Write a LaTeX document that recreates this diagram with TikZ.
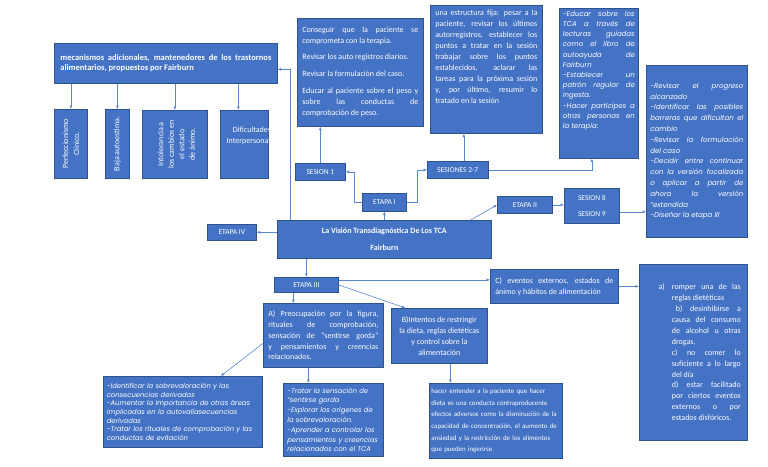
\documentclass[tikz,border=0pt]{standalone}
\usepackage{fontspec}
\setmainfont{Carlito}
\newfontfamily\gothic{Poppins}
\usepackage{xcolor}
\usetikzlibrary{arrows.meta, positioning}
\definecolor{boxblue}{HTML}{4472C4}
\definecolor{boxedge}{HTML}{2F528F}
\definecolor{linkblue}{HTML}{5B87D0}

\begin{document}
\begin{tikzpicture}[x=1pt, y=-1pt]
  \tikzset{
    box/.style={rectangle, draw=boxedge, fill=boxblue, line width=0.7pt, anchor=north west, inner sep=0pt},
    txt/.style={text=white, inner sep=0pt, font=\fontsize{8}{11}\selectfont},
    tag/.style={box, txt, font=\fontsize{7.5}{9}\selectfont},
    slant/.style={txt, font=\gothic\itshape\fontsize{7}{10.2}\selectfont},
    link/.style={draw=linkblue, line width=0.6pt, -{Latex[length=3.5pt, width=3pt]}}
  }
  \useasboundingbox (0,0) rectangle (768,466);
  \fill[white] (0,0) rectangle (768,466);

  % Mecanismos adicionales
  \node[box, txt, minimum width=223, minimum height=40, text width=211, align=justify, font=\bfseries\fontsize{8.5}{10}\selectfont] (mec) at (54,43)
    {mecanismos adicionales, mantenedores de los trastornos\linebreak alimentarios, propuestos por Fairburn};
  \node[box, minimum width=33, minimum height=69] (perf) at (54,109) {};
  \node[box, minimum width=24, minimum height=69] (baja) at (105,109) {};
  \node[box, minimum width=65, minimum height=68] (intol) at (142,110) {};
  \node[box, minimum width=48, minimum height=68] (dific) at (220,110) {};
  \node[txt, rotate=90, align=center] (perftxt) at (perf.center) {Perfeccionismo\\Clínico.};
  \node[txt, rotate=90] (bajatxt) at (baja.center) {Baja autoestima.};
  \node[txt, rotate=90, align=center, font=\fontsize{8}{10.5}\selectfont] (intoltxt) at ([xshift=1.5pt]intol.center) {Intolerancia a\\los cambios en\\el estado\\de ánimo.};
  \begin{scope}
    \clip (dific.north west) rectangle (dific.south east);
    \node[txt, align=center] (dificTxt) at (252,135.5) {Dificultades\\Interpersonales};
  \end{scope}
  \draw[link] (mec.south -| perf.north) -- (perf.north);
  \draw[link] (mec.south -| baja.north) -- (baja.north);
  \draw[link] (mec.south -| intol.north) -- (intol.north);
  \draw[link] ([xshift=-6pt]mec.south -| dific.north) -- ([xshift=-6pt]dific.north);

  % Etapa I y sesiones
  \node[box, txt, minimum width=126, minimum height=108, text width=116, align=justify] (tarea1) at (297,18)
    {Conseguir que la paciente se\linebreak comprometa con la terapia.\\[5pt]
     Revisar los auto registros diarios.\\[6pt]
     Revisar la formulación del caso.\\[6pt]
     Educar al paciente sobre el peso y\linebreak sobre las conductas de\linebreak comprobación de peso.};
  \node[box, minimum width=112, minimum height=128] (tarea27) at (430,5) {};
  \node[txt, text width=102, align=justify, below=5pt of tarea27.north] (tarea27txt)
    {una estructura fija: pesar a la\linebreak paciente, revisar los últimos\linebreak autorregistros, establecer los\linebreak
     puntos a tratar en la sesión\linebreak trabajar sobre los puntos\linebreak establecidos, aclarar las\linebreak
     tareas para la próxima sesión\linebreak y, por último, resumir lo\linebreak tratado en la sesión};
  \node[box, minimum width=79, minimum height=150] (tareaedu) at (559,8) {};
  \node[slant, text width=72, align=justify, below=3pt of tareaedu.north] (tareaedutxt)
    {-Educar sobre los\linebreak TCA a través de\linebreak lecturas guiadas\linebreak como el libro de\linebreak autoayuda de\linebreak Fairburn\\
     -Establecer un\linebreak patrón regular de\linebreak ingesta.\\
     -Hacer partícipes a\linebreak otras personas en\linebreak la terapia:};
  \node[tag, minimum width=50, minimum height=17] (sesion1) at (295,163) {SESION 1};
  \node[tag, minimum width=61, minimum height=17] (sesion27) at (427,161) {SESIONES 2-7};
  \node[tag, minimum width=44, minimum height=18] (etapa1) at (362,193) {ETAPA I};
  \draw[link] (sesion1.north) -- (sesion1.north |- tarea1.south);
  \draw[link] ([xshift=6pt]sesion27.north) -- ([xshift=6pt]sesion27.north |- tarea27.south);
  \draw[link] (sesion27.east) -| ([xshift=-7pt]tareaedu.south);
  \draw[link] (etapa1.west) -- ++(-8,0) |- (sesion1.east);
  \draw[link] (etapa1.east) -- ++(11,0) |- (sesion27.west);

  % La vision transdiagnostica
  \node[box, txt, minimum width=214, minimum height=38, align=center, font=\bfseries\fontsize{8}{10}\selectfont] (tca) at (277,220)
    {La Visión Transdiagnóstica De Los TCA\\[7pt]Fairburn};
  \node[tag, minimum width=49, minimum height=16] (etapa4) at (207,224) {ETAPA IV};
  \draw[link] (tca.north -| etapa1.south) -- (etapa1.south);
  \draw[link] (tca.west |- etapa4.east) -- (etapa4.east);
  \draw[link] ([xshift=13pt]tca.north west) |- ([yshift=-6pt]mec.east);

  % Etapa II
  \node[tag, minimum width=55, minimum height=17] (etapa2) at (497,196) {ETAPA II};
  \node[tag, minimum width=55, minimum height=35, align=center] (sesion89) at (564,188) {SESION 8\\[7pt]SESION 9};
  \node[box, txt, minimum width=101, minimum height=172, text width=93, align=justify, font=\gothic\itshape\fontsize{7}{10.8}\selectfont] (revision) at (646,65)
    {-Revisar el progreso\linebreak alcanzado\\
     -Identificar las posibles\linebreak barreras que dificultan el\linebreak cambio\\
     -Revisar la formulación\linebreak del caso\\
     -Decidir entre continuar\linebreak con la versión focalizada\linebreak o aplicar a partir de\linebreak ahora la versión\linebreak “extendida\\
     -Diseñar la etapa III};
  \draw[link] ([xshift=-21pt]tca.north east) -- (etapa2.west);
  \draw[link] (etapa2.east) -- (etapa2.east -| sesion89.west);
  \draw[link] ([yshift=-6pt]sesion89.east) -- ([yshift=-6pt]sesion89.east -| revision.west);

  % Etapa III
  \node[tag, minimum width=64, minimum height=15] (etapa3) at (274,277) {ETAPA III};
  \node[box, txt, minimum width=128, minimum height=34, text width=118, align=justify] (factc) at (490,269)
    {C) eventos externos, estados de\linebreak ánimo y hábitos de alimentación};
  \node[box, minimum width=108, minimum height=176] (desenc) at (639,264) {};
  \node[txt, text width=69, align=justify, font=\fontsize{8}{10.9}\selectfont] (desenctxt) at ([xshift=13pt]desenc.center)
    {\llap{a)\hspace{7pt}}romper una de las\linebreak reglas dietéticas\\
     \hspace*{4pt}b) desinhibirse a\linebreak causa del consumo\linebreak de alcohol u otras\linebreak drogas,\\
     c) no comer lo\linebreak suficiente a lo largo\linebreak del día\\
     d) estar facilitado\linebreak por ciertos eventos\linebreak externos o por\linebreak estados disfóricos.};
  \node[box, txt, minimum width=120, minimum height=64, text width=110, align=justify, font=\fontsize{8}{10.75}\selectfont] (facta) at (263,303)
    {A) Preocupación por la figura,\linebreak rituales de comprobación,\linebreak sensación de “sentirse gorda”\linebreak y pensamientos y creencias\linebreak relacionados.};
  \node[box, txt, minimum width=96, minimum height=55, align=center] (factb) at (391,308)
    {B)Intentos de restringir\\la dieta, reglas dietéticas\\y control sobre la\\alimentación};
  \draw[link] (tca.south -| etapa3.north) -- (etapa3.north);
  \draw[link] ([yshift=5pt]etapa3.east) -- ([yshift=5pt]etapa3.east -| factc.west);
  \draw[link] (factc.east) -- (factc.east -| desenc.west);
  \draw[link] ([xshift=-13pt]etapa3.south) -- ([xshift=-13pt]etapa3.south |- facta.north);
  \draw[link] (etapa3.east) -- ([xshift=-34pt]factb.north);

  % Objetivos de la etapa III
  \node[box, slant, minimum width=159, minimum height=71, text width=152, align=left, font=\gothic\itshape\fontsize{6.8}{8.7}\selectfont] (objA1) at (103,376)
    {-Identificar la sobrevaloración y las\\consecuencias derivadas\\-Aumentar la importancia de otras áreas\\implicadas en la autovalíasecuencias\\derivadas\\-Tratar los rituales de comprobación y las\\conductas de evitación};
  \node[box, slant, minimum width=100, minimum height=73, text width=92, align=left, font=\gothic\itshape\fontsize{6.8}{9.8}\selectfont] (objA2) at (283,383)
    {-Tratar la sensación de\\“sentirse gorda\\-Explorar los orígenes de\\la sobrevaloración.\\-Aprender a controlar los\\pensamientos y creencias\\relacionados con el TCA};
  \node[box, txt, minimum width=133, minimum height=75, text width=129, align=left, font=\fontsize{6.9}{11.6}\selectfont] (objB) at (429,383)
    {hacer entender a la paciente que hacer\\dieta es una conducta contraproducente\\efectos adversos como la disminución de la\\capacidad de concentración, el aumento de\\ansiedad y la restricción de los alimentos\\que pueden ingerirse};
  \draw[link] ([yshift=-8pt]facta.west) -- ([xshift=38pt]objA1.north);
  \draw[link] ([xshift=-15pt]facta.south) -- ([xshift=-15pt]facta.south |- objA2.north);
  \draw[link] ([xshift=11pt]factb.south) -- ([xshift=11pt]factb.south |- objB.north);
\end{tikzpicture}
\end{document}
